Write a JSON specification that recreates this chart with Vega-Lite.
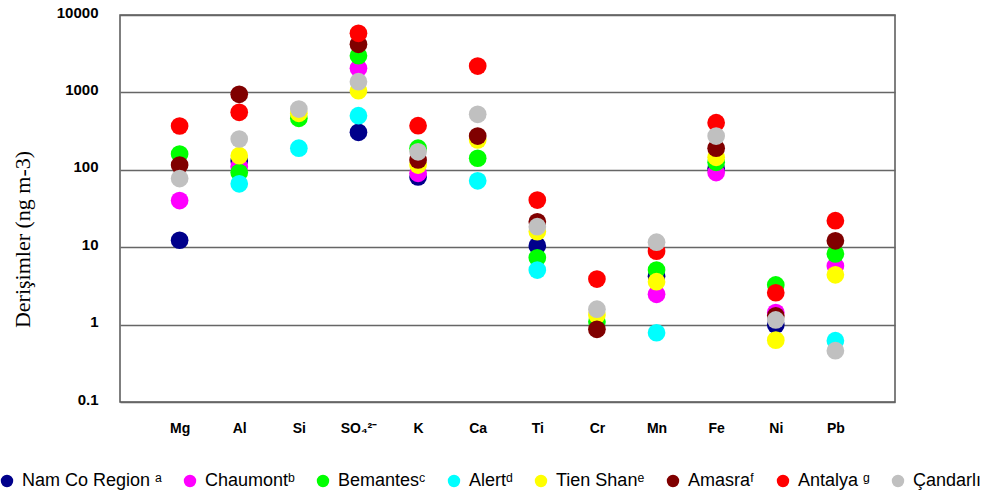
{
  "$schema": "https://vega.github.io/schema/vega-lite/v6.json",
  "width": 775,
  "height": 387,
  "autosize": {"type": "none"},
  "padding": {"left": 120, "top": 15, "right": 98, "bottom": 93},
  "background": "white",
  "config": {
    "view": {"stroke": "#555", "strokeWidth": 1.5},
    "legend": {"padding": 0}
  },
  "data": {
    "values": [
      {"el": "Mg", "site": "Nam Co Region ᵃ", "v": 12.3},
      {"el": "Al", "site": "Nam Co Region ᵃ", "v": 130},
      {"el": "SO₄²⁻", "site": "Nam Co Region ᵃ", "v": 305},
      {"el": "K", "site": "Nam Co Region ᵃ", "v": 81},
      {"el": "Ti", "site": "Nam Co Region ᵃ", "v": 10.4},
      {"el": "Mn", "site": "Nam Co Region ᵃ", "v": 4.2},
      {"el": "Fe", "site": "Nam Co Region ᵃ", "v": 104},
      {"el": "Ni", "site": "Nam Co Region ᵃ", "v": 0.99},

      {"el": "Mg", "site": "Chaumontᵇ", "v": 40},
      {"el": "Al", "site": "Chaumontᵇ", "v": 110},
      {"el": "SO₄²⁻", "site": "Chaumontᵇ", "v": 2050},
      {"el": "K", "site": "Chaumontᵇ", "v": 90},
      {"el": "Mn", "site": "Chaumontᵇ", "v": 2.46},
      {"el": "Fe", "site": "Chaumontᵇ", "v": 92},
      {"el": "Ni", "site": "Chaumontᵇ", "v": 1.43},
      {"el": "Pb", "site": "Chaumontᵇ", "v": 5.7},

      {"el": "Mg", "site": "Bemantesᶜ", "v": 160},
      {"el": "Al", "site": "Bemantesᶜ", "v": 92},
      {"el": "Si", "site": "Bemantesᶜ", "v": 462},
      {"el": "SO₄²⁻", "site": "Bemantesᶜ", "v": 2980},
      {"el": "K", "site": "Bemantesᶜ", "v": 190},
      {"el": "Ca", "site": "Bemantesᶜ", "v": 141},
      {"el": "Ti", "site": "Bemantesᶜ", "v": 7.3},
      {"el": "Cr", "site": "Bemantesᶜ", "v": 1.09},
      {"el": "Mn", "site": "Bemantesᶜ", "v": 5.07},
      {"el": "Fe", "site": "Bemantesᶜ", "v": 125},
      {"el": "Ni", "site": "Bemantesᶜ", "v": 3.25},
      {"el": "Pb", "site": "Bemantesᶜ", "v": 8.2},

      {"el": "Al", "site": "Alertᵈ", "v": 66},
      {"el": "Si", "site": "Alertᵈ", "v": 190},
      {"el": "SO₄²⁻", "site": "Alertᵈ", "v": 500},
      {"el": "Ca", "site": "Alertᵈ", "v": 72},
      {"el": "Ti", "site": "Alertᵈ", "v": 5.07},
      {"el": "Mn", "site": "Alertᵈ", "v": 0.785},
      {"el": "Pb", "site": "Alertᵈ", "v": 0.62},

      {"el": "Al", "site": "Tien Shanᵉ", "v": 152},
      {"el": "Si", "site": "Tien Shanᵉ", "v": 537},
      {"el": "SO₄²⁻", "site": "Tien Shanᵉ", "v": 1050},
      {"el": "K", "site": "Tien Shanᵉ", "v": 115},
      {"el": "Ca", "site": "Tien Shanᵉ", "v": 243},
      {"el": "Ti", "site": "Tien Shanᵉ", "v": 15.9},
      {"el": "Cr", "site": "Tien Shanᵉ", "v": 1.33},
      {"el": "Mn", "site": "Tien Shanᵉ", "v": 3.58},
      {"el": "Fe", "site": "Tien Shanᵉ", "v": 145},
      {"el": "Ni", "site": "Tien Shanᵉ", "v": 0.63},
      {"el": "Pb", "site": "Tien Shanᵉ", "v": 4.4},

      {"el": "Mg", "site": "Amasraᶠ", "v": 115},
      {"el": "Al", "site": "Amasraᶠ", "v": 945},
      {"el": "SO₄²⁻", "site": "Amasraᶠ", "v": 4180},
      {"el": "K", "site": "Amasraᶠ", "v": 134},
      {"el": "Ca", "site": "Amasraᶠ", "v": 273},
      {"el": "Ti", "site": "Amasraᶠ", "v": 21.3},
      {"el": "Cr", "site": "Amasraᶠ", "v": 0.87},
      {"el": "Fe", "site": "Amasraᶠ", "v": 190},
      {"el": "Ni", "site": "Amasraᶠ", "v": 1.3},
      {"el": "Pb", "site": "Amasraᶠ", "v": 12.1},

      {"el": "Mg", "site": "Antalya ᵍ", "v": 368},
      {"el": "Al", "site": "Antalya ᵍ", "v": 553},
      {"el": "SO₄²⁻", "site": "Antalya ᵍ", "v": 5800},
      {"el": "K", "site": "Antalya ᵍ", "v": 371},
      {"el": "Ca", "site": "Antalya ᵍ", "v": 2190},
      {"el": "Ti", "site": "Antalya ᵍ", "v": 40.7},
      {"el": "Cr", "site": "Antalya ᵍ", "v": 3.88},
      {"el": "Mn", "site": "Antalya ᵍ", "v": 8.9},
      {"el": "Fe", "site": "Antalya ᵍ", "v": 406},
      {"el": "Ni", "site": "Antalya ᵍ", "v": 2.58},
      {"el": "Pb", "site": "Antalya ᵍ", "v": 22},

      {"el": "Mg", "site": "Çandarlı", "v": 77},
      {"el": "Al", "site": "Çandarlı", "v": 250},
      {"el": "Si", "site": "Çandarlı", "v": 610},
      {"el": "SO₄²⁻", "site": "Çandarlı", "v": 1375},
      {"el": "K", "site": "Çandarlı", "v": 171},
      {"el": "Ca", "site": "Çandarlı", "v": 521},
      {"el": "Ti", "site": "Çandarlı", "v": 18.4},
      {"el": "Cr", "site": "Çandarlı", "v": 1.58},
      {"el": "Mn", "site": "Çandarlı", "v": 11.6},
      {"el": "Fe", "site": "Çandarlı", "v": 273},
      {"el": "Ni", "site": "Çandarlı", "v": 1.15},
      {"el": "Pb", "site": "Çandarlı", "v": 0.46}
    ]
  },
  "mark": {"type": "point", "filled": true, "opacity": 1, "size": 314, "shape": "circle", "strokeWidth": 0},
  "encoding": {
    "x": {
      "field": "el",
      "type": "nominal",
      "sort": null,
      "scale": {"type": "point", "padding": 1, "domain": ["Mg", "Al", "Si", "SO₄²⁻", "K", "Ca", "Ti", "Cr", "Mn", "Fe", "Ni", "Pb"]},
      "axis": {
        "title": null,
        "domain": false,
        "ticks": false,
        "grid": false,
        "labelAngle": 0,
        "labelFont": "Liberation Sans",
        "labelFontWeight": "bold",
        "labelFontSize": 14,
        "labelColor": "#000",
        "labelPadding": 19
      }
    },
    "y": {
      "field": "v",
      "type": "quantitative",
      "scale": {"type": "log", "domain": [0.1, 10000], "nice": false},
      "axis": {
        "values": [0.1, 1, 10, 100, 1000, 10000],
        "format": "~f",
        "domain": false,
        "ticks": false,
        "grid": true,
        "gridColor": "#666",
        "gridWidth": 1.5,
        "gridOpacity": 1,
        "labelFont": "Liberation Sans",
        "labelFontWeight": "bold",
        "labelFontSize": 15,
        "labelColor": "#000",
        "labelPadding": 22,
        "labelOffset": -3,
        "title": "Derişimler (ng m-3)",
        "titleFont": "Liberation Serif",
        "titleFontSize": 22,
        "titleFontWeight": "normal",
        "titleColor": "#000",
        "titleAngle": -90,
        "titleX": -98,
        "titleY": 224,
        "titleAlign": "center",
        "titleBaseline": "middle"
      }
    },
    "color": {
      "field": "site",
      "type": "nominal",
      "scale": {
        "domain": ["Nam Co Region ᵃ", "Chaumontᵇ", "Bemantesᶜ", "Alertᵈ", "Tien Shanᵉ", "Amasraᶠ", "Antalya ᵍ", "Çandarlı"],
        "range": ["#00008B", "#FF00FF", "#00FF00", "#00FFFF", "#FFFF00", "#800000", "#FF0000", "#C0C0C0"]
      },
      "legend": {
        "title": null,
        "orient": "none",
        "direction": "horizontal",
        "columns": 8,
        "legendX": -122,
        "legendY": 457,
        "symbolType": "circle",
        "symbolSize": 154,
        "symbolStrokeWidth": 0,
        "symbolOpacity": 1,
        "labelFont": "Liberation Sans",
        "labelFontSize": 18,
        "labelColor": "#000",
        "labelOffset": 6,
        "columnPadding": 19,
        "labelLimit": 300
      }
    }
  }
}
